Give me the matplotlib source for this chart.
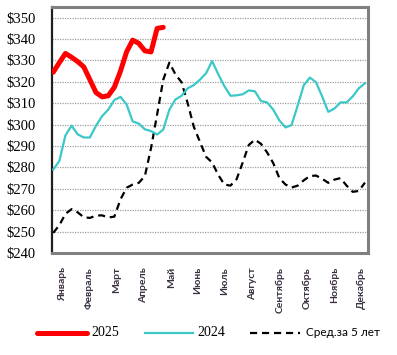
import matplotlib
matplotlib.use("Agg")
import matplotlib.pyplot as plt
from matplotlib.lines import Line2D

months = ["Январь", "Февраль", "Март", "Апрель", "Май", "Июнь", "Июль",
          "Август", "Сентябрь", "Октябрь", "Ноябрь", "Декабрь"]
month_pos = [1.47, 5.9, 10.4, 14.85, 19.3, 23.6, 28.1, 32.6, 37.1, 41.5, 46.0, 50.4]

y2025 = [324.5, 329, 333.3, 331.5, 329.5, 327, 321, 315, 313, 313.5,
         317.5, 325, 334, 339.5, 338, 334.5, 334, 345, 345.5]

y2024 = [279, 283, 295, 299.5, 295.5, 294, 294, 299.5, 304, 307,
         311.5, 313, 309.5, 301.5, 300.5, 297.8, 297, 295.4, 297.7, 307,
         311.8, 313.5, 317, 318.5, 321, 324, 329.7, 323.6, 318, 313.5,
         313.7, 314.2, 316, 315.6, 311, 310.4, 307, 302, 298.7, 299.8,
         309, 318.5, 322, 319.8, 313.2, 306, 307.5, 310.4, 310.4, 313.2,
         317, 319.3]

yavg = [249.4, 253, 258.3, 260.5, 259, 256.7, 256.4, 257.5, 257.6, 256.6,
        257, 265, 270.5, 272, 272.8, 276, 289, 304.8, 321, 329,
        323.5, 319.8, 310, 299, 292, 285, 282.3, 276.5, 272, 271.5,
        274.5, 282.3, 290.5, 293, 291, 287, 282, 275, 272, 270.6,
        271.5, 274, 276, 276.2, 274.7, 272.8, 274.3, 275, 271.5, 268.6,
        269, 272.9]

yticks = list(range(240, 351, 10))
ytick_labels = [f"${v}" for v in yticks]
legend_labels = ["2025", "2024", "Сред.за 5 лет"]

W, H = 397, 355
fig = plt.figure(figsize=(W / 100, H / 100), dpi=100)
ax = fig.add_axes([52 / W, 1 - 253 / H, (368 - 52) / W, (253 - 7) / H])

cyan = "#3cc8c8"
ax.plot(range(len(yavg)), yavg, color="black", lw=1.6, ls=(0, (3.2, 2.2)), zorder=3)
ax.plot(range(len(y2024)), y2024, color=cyan, lw=1.6, zorder=4)
ax.plot(range(len(y2025)), y2025, color="#ff0000", lw=3.6, solid_capstyle="round",
        solid_joinstyle="round", zorder=5)

ax.set_xlim(-0.2, 51.5)
ax.set_ylim(240, 355)
ax.set_yticks(yticks)
ax.set_yticklabels(ytick_labels, family=["Liberation Serif"], fontsize=10.5)
ax.set_xticks(month_pos)
ax.set_xticklabels(months, rotation=90, family=["Lato", "Noto Sans", "DejaVu Sans"],
                   fontsize=7.5, fontweight="bold", color="#3a3040", va="top", ha="center")
ax.tick_params(axis="both", length=0)
ax.tick_params(axis="y", pad=12)
ax.tick_params(axis="x", pad=10)

for v in yticks[1:]:
    ax.axhline(v, color="#a0a0a0", lw=0.9, ls=(0, (1, 1)), zorder=1)

ax.spines["left"].set_color("#202020")
ax.spines["left"].set_linewidth(1.6)
for s in ["top", "right", "bottom"]:
    ax.spines[s].set_color("#808080")
    ax.spines[s].set_linewidth(2.2)

# legend
ly = 1 - 333 / H
fig.add_artist(Line2D([37 / W, 87 / W], [ly, ly], color="#ff0000", lw=3.6,
                      solid_capstyle="round", transform=fig.transFigure))
fig.text(91 / W, ly, legend_labels[0], family=["Liberation Serif"], fontsize=10, va="center")
fig.add_artist(Line2D([145 / W, 193 / W], [ly, ly], color=cyan, lw=1.6,
                      transform=fig.transFigure))
fig.text(197 / W, ly, legend_labels[1], family=["Liberation Serif"], fontsize=10, va="center")
fig.add_artist(Line2D([250 / W, 300 / W], [ly, ly], color="black", lw=1.6,
                      ls=(0, (3.2, 2.2)), transform=fig.transFigure))
fig.text(306 / W, ly, legend_labels[2], family=["Lato", "Noto Sans", "DejaVu Sans"],
         fontsize=8.5, va="center")

fig.savefig("out.png", dpi=100)
